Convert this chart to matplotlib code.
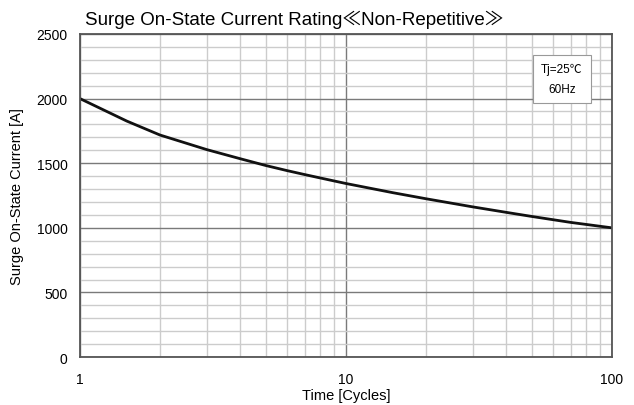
import numpy as np
import matplotlib.pyplot as plt
from matplotlib.ticker import FixedLocator, NullFormatter

plt.rcParams['font.family'] = ['Liberation Sans', 'Noto Sans CJK JP', 'DejaVu Sans']

# values
cycles = [1, 1.5, 2, 3, 4, 5, 6, 7, 8, 10, 15, 20, 30, 40, 50, 70, 100]
current = [2000, 1826, 1718, 1605, 1535, 1482, 1443, 1412, 1386, 1343,
           1272, 1225, 1162, 1120, 1088, 1042, 1000]

x_ticks = [1, 10, 100]
x_minor = [m * d for d in (1, 10) for m in range(2, 10)]
y_ticks = [0, 500, 1000, 1500, 2000, 2500]
y_minor = list(range(0, 2501, 100))

fig = plt.figure(figsize=(6.34, 4.06), dpi=100)
ax = fig.add_axes([0.126, 0.118, 0.839, 0.796])

ax.set_xscale('log')
ax.set_xlim(1, 100)
ax.set_ylim(0, 2500)

ax.xaxis.set_major_locator(FixedLocator(x_ticks))
ax.xaxis.set_minor_locator(FixedLocator(x_minor))
ax.xaxis.set_minor_formatter(NullFormatter())
ax.set_xticklabels([str(t) for t in x_ticks])
ax.yaxis.set_major_locator(FixedLocator(y_ticks))
ax.yaxis.set_minor_locator(FixedLocator(y_minor))

ax.grid(which='minor', color='#cccccc', linewidth=1.0)
ax.grid(which='major', color='#7a7a7a', linewidth=1.0)
ax.set_axisbelow(True)

ax.tick_params(which='both', length=0, labelsize=10)
ax.tick_params(axis='x', pad=11)
ax.tick_params(axis='y', pad=9)
for s in ax.spines.values():
    s.set_color('#555555')
    s.set_linewidth(1.3)

ax.plot(cycles, current, color='#111111', linewidth=2.0,
        solid_joinstyle='round')

ax.set_xlabel('Time [Cycles]', fontsize=10.5, labelpad=1)
ax.set_ylabel('Surge On-State Current [A]', fontsize=10.5, labelpad=9)
fig.text(0.134, 0.95, 'Surge On-State Current Rating≪Non-Repetitive≫',
         fontsize=13.5, ha='left', va='center')

ax.text(0.906, 0.861, 'Tj=25℃\n60Hz', transform=ax.transAxes,
        ha='center', va='center', fontsize=8.5, linespacing=1.8,
        bbox=dict(boxstyle='square,pad=0.7', facecolor='white',
                  edgecolor='#999999', linewidth=0.8))

fig.savefig('out.png', dpi=100)
